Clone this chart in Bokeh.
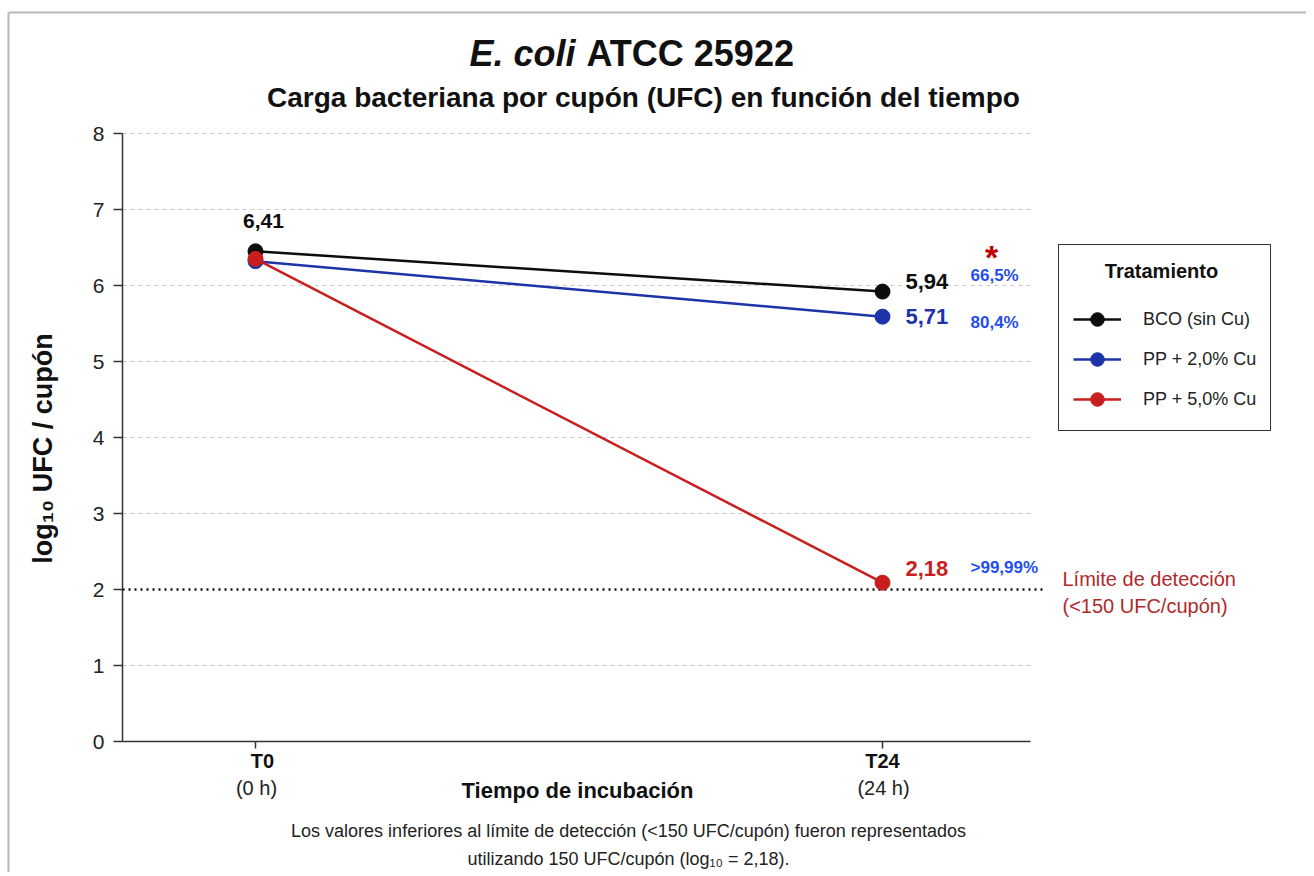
from bokeh.plotting import figure
from bokeh.models import Label, Legend, LegendItem, Range1d
from bokeh.embed import file_html
from bokeh.resources import INLINE
from bokeh.core.properties import value
import math

# ---------------- data ----------------
times = [0, 24]
time_labels = ["T0", "T24"]
time_sub = ["(0 h)", "(24 h)"]
series_names = ["BCO (sin Cu)", "PP + 2,0% Cu", "PP + 5,0% Cu"]
bco_vals = [6.45, 5.92]
pp2_vals = [6.32, 5.59]
pp5_vals = [6.35, 2.09]
t0_label = "6,41"
t24_labels = ["5,94", "5,71", "2,18"]
reduction_labels = ["66,5%", "80,4%", ">99,99%"]
detection_limit = 2.0
y_ticks = [0, 1, 2, 3, 4, 5, 6, 7, 8]
y_tick_labels = [str(v) for v in y_ticks]

FONT = "Liberation Sans"
BLACK = "#0d0d0d"
BLUE = "#1c34a8"
RED = "#c81e1e"
PCT_BLUE = "#1f4ef0"
LIM_RED = "#b02a2a"
AXIS = "#333333"

# ---------------- layout (pixels) ----------------
ORIGIN = 0          # page offset of the canvas
W, H = 1306, 872
X_T0, X_T24 = 255, 882      # page x of the two time points
Y_0, Y_8 = 741, 133         # page y of 0 and 8
KX = (X_T24 - X_T0) / (times[1] - times[0])
KY = (Y_0 - Y_8) / (y_ticks[-1] - y_ticks[0])

def dx(X):
    return times[0] + (X - X_T0) / KX

def dy(Y):
    return (Y_0 - Y) / KY

x_left, x_right = dx(122), dx(1030)

p = figure(width=W, height=H, output_backend="svg", toolbar_location=None,
           x_range=Range1d(dx(ORIGIN), dx(ORIGIN + W)),
           y_range=Range1d(dy(ORIGIN + H), dy(ORIGIN)),
           min_border=0)
p.outline_line_color = None
p.axis.visible = False
p.grid.visible = False
p.background_fill_color = "white"
p.border_fill_color = "white"

# outer frame (left/top border)
p.segment(x0=[dx(8), dx(8)], y0=[dy(12), dy(12)], x1=[dx(8), dx(ORIGIN + W + 10)],
          y1=[dy(ORIGIN + H + 10), dy(12)], line_color="#b8b8b8", line_width=2)

# grid lines
grid_vals = [v for v in y_ticks if v not in (0, detection_limit)]
p.segment(x0=[x_left] * len(grid_vals), x1=[x_right] * len(grid_vals), y0=grid_vals,
          y1=grid_vals, line_color="#c8c8c8", line_dash="4 4", line_width=1)

# detection limit line
p.segment(x0=[x_left], x1=[dx(1046)], y0=[detection_limit], y1=[detection_limit],
          line_color="#111111", line_dash="2 4", line_width=2.5)

# axes
p.segment(x0=[x_left, x_left], y0=[y_ticks[0], y_ticks[0]], x1=[x_left, x_right],
          y1=[y_ticks[-1], y_ticks[0]], line_color=AXIS, line_width=1.5)
p.segment(x0=[x_left] * len(y_ticks), x1=[x_left - 9 / KX] * len(y_ticks), y0=y_ticks,
          y1=y_ticks, line_color=AXIS, line_width=1.5)
p.segment(x0=times, x1=times, y0=[0] * len(times), y1=[-7 / KY] * len(times),
          line_color=AXIS, line_width=1.5)
p.text(x=[x_left - 18 / KX] * len(y_ticks), y=y_ticks, text=y_tick_labels,
       text_font=value(FONT), text_font_size="21px", text_color="#222222",
       text_align="right", text_baseline="middle")

def add_label(text, X, Y, size, style="normal", color="#111111", align="left",
              baseline="middle", angle=0.0):
    p.add_layout(Label(x=X - ORIGIN, y=ORIGIN + H - Y, x_units="screen", y_units="screen",
                       text=text, text_font=FONT, text_font_size=f"{size}px",
                       text_font_style=style, text_color=color, text_align=align,
                       text_baseline=baseline, angle=angle))

# legend title (centered, drawn beneath a transparent legend box)
add_label("Tratamiento", 1161, 270, 20, "bold", "#111111", "center")

# series
items = []
for name, vals, col in zip(series_names, [bco_vals, pp2_vals, pp5_vals], [BLACK, BLUE, RED]):
    r1 = p.line(times, vals, line_color=col, line_width=2.5)
    r2 = p.scatter(times, vals, size=15, fill_color=col, line_color=col)
    items.append(LegendItem(label=name, renderers=[r1, r2]))

LEG_TOP = 243
LEG_H = 14 + 23 + 23 + 34 * 3 + 6 * 2 + 14
legend = Legend(items=items, location=(1058 - ORIGIN, ORIGIN + H - (LEG_TOP + LEG_H)),
                title="Tratamiento",
                title_text_alpha=0, title_text_font=FONT, title_text_font_size="17px",
                title_standoff=23, padding=14, spacing=6, glyph_width=48, glyph_height=34,
                label_height=34, label_standoff=22, label_text_font=FONT,
                label_text_font_size="18px", label_text_color="#222222",
                border_line_color="#333333", border_line_width=1.5, border_line_alpha=1.0,
                background_fill_alpha=0.0, margin=0)
p.add_layout(legend, "center")

# titles
add_label("E. coli", 469, 53, 36, "bold italic", "#111111", "left", "middle")
add_label("ATCC 25922", 586, 53, 36, "bold", "#111111", "left", "middle")
add_label("Carga bacteriana por cupón (UFC) en función del tiempo", 643, 97, 28,
          "bold", "#111111", "center", "middle")

# y axis title
add_label("log₁₀ UFC / cupón", 42, 448, 27, "bold", "#111111", "center", "middle",
          angle=math.pi / 2)

# x tick labels & axis title
x_lab_offsets = [7, 0]
for t, lab, sub, xo in zip(times, time_labels, time_sub, x_lab_offsets):
    p.add_layout(Label(x=t, y=0, text=lab, x_offset=xo, y_offset=-19,
                       text_font=FONT, text_font_size="20px", text_font_style="bold",
                       text_color="#111111", text_align="center", text_baseline="middle"))
    p.add_layout(Label(x=t, y=0, text=sub, x_offset=1, y_offset=-46,
                       text_font=FONT, text_font_size="20px",
                       text_color="#222222", text_align="center", text_baseline="middle"))
add_label("Tiempo de incubación", 577, 790, 22, "bold", "#111111", "center", "middle")

# footnote
add_label("Los valores inferiores al límite de detección (<150 UFC/cupón) fueron representados",
          628, 830, 18, "normal", "#222222", "center", "middle")
add_label("utilizando 150 UFC/cupón (log₁₀ = 2,18).", 628, 858, 18, "normal",
          "#222222", "center", "middle")

# data labels
p.add_layout(Label(x=times[0], y=bco_vals[0], text=t0_label, x_offset=8, y_offset=30,
                   text_font=FONT, text_font_size="21px", text_font_style="bold",
                   text_color=BLACK, text_align="center", text_baseline="middle"))
t24_offsets = [10, 0, 14]
for vals, lab, col, yo in zip([bco_vals, pp2_vals, pp5_vals], t24_labels,
                              [BLACK, BLUE, RED], t24_offsets):
    p.add_layout(Label(x=times[1], y=vals[1], text=lab, x_offset=23, y_offset=yo,
                       text_font=FONT, text_font_size="22px", text_font_style="bold",
                       text_color=col, text_align="left", text_baseline="middle"))
pct_Y = [275, 322, 567]
for lab, Y in zip(reduction_labels, pct_Y):
    add_label(lab, 970, Y, 17, "bold", PCT_BLUE, "left", "middle")
add_label("*", 991, 256, 34, "bold", "#c00000", "center", "middle")

# detection limit text
add_label("Límite de detección", 1062, 578, 20, "normal", LIM_RED, "left", "middle")
add_label("(<150 UFC/cupón)", 1062, 605, 20, "normal", LIM_RED, "left", "middle")

open("out.html", "w").write(file_html(p, INLINE))
